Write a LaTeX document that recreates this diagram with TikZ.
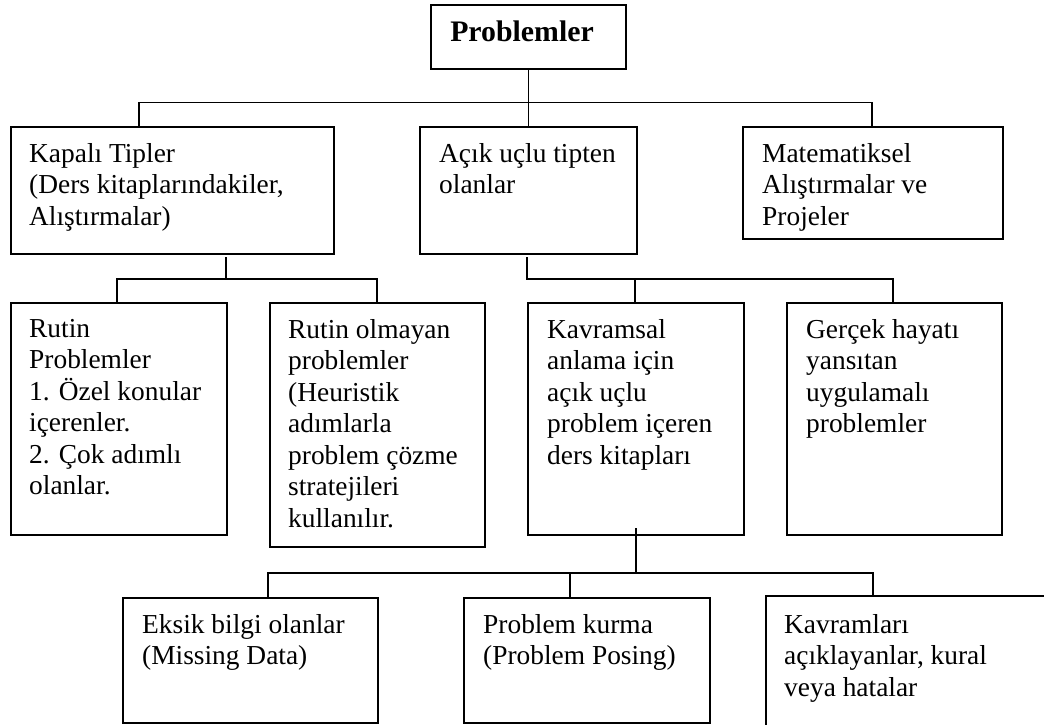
\documentclass[tikz,border=0pt]{standalone}
\usepackage{fontspec}
\setmainfont{Liberation Serif}
\begin{document}
\begin{tikzpicture}[x=1pt,y=-1pt,
  box/.style={draw, line width=1.7pt, inner sep=0pt, anchor=north west},
  txt/.style={inner sep=0pt, anchor=north west, align=left, font=\fontsize{27.4}{31.5}\selectfont},
  conn/.style={line width=1.4pt}]
\useasboundingbox (0,0) rectangle (1044,725);
\clip (0,0) rectangle (1044,725);
% boxes
\node[box, minimum width=195pt, minimum height=64pt] (root) at (430,4) {};
\node[box, minimum width=323pt, minimum height=127pt] (kapali) at (10,126) {};
\node[box, minimum width=217pt, minimum height=127pt] (acik) at (419,126) {};
\node[box, minimum width=260pt, minimum height=112pt] (mat) at (742,126) {};
\node[box, minimum width=216pt, minimum height=232pt] (rutin) at (10,302) {};
\node[box, minimum width=215pt, minimum height=244pt] (rutinol) at (269,302) {};
\node[box, minimum width=216pt, minimum height=232pt] (kavr) at (527,302) {};
\node[box, minimum width=215pt, minimum height=232pt] (gercek) at (786,302) {};
\node[box, minimum width=255pt, minimum height=125pt] (eksik) at (122,597) {};
\node[box, minimum width=246pt, minimum height=125pt] (kurma) at (463,597) {};
\node[box, minimum width=300pt, minimum height=160pt] (kavlari) at (765,595) {};
% texts
\node[inner sep=0pt, anchor=base, font=\fontsize{29.8}{34}\selectfont\bfseries] (roottxt) at (522,42) {Problemler};
\node[txt] (kapalitxt) at ([shift={(19,17)}]kapali.north west) {Kapalı Tipler\\(Ders kitaplarındakiler,\\Alıştırmalar)};
\node[txt] (aciktxt) at ([shift={(20,17)}]acik.north west) {Açık uçlu tipten\\olanlar};
\node[txt] (mattxt) at ([shift={(20,17)}]mat.north west) {Matematiksel\\Alıştırmalar ve\\Projeler};
\node[txt] (rutintxt) at ([shift={(19,17)}]rutin.north west) {Rutin\\Problemler\\1. Özel konular\\içerenler.\\2. Çok adımlı\\olanlar.};
\node[txt] (rutinoltxt) at ([shift={(19,17)}]rutinol.north west) {Rutin olmayan\\problemler\\(Heuristik\\adımlarla\\problem çözme\\stratejileri\\kullanılır.};
\node[txt] (kavrtxt) at ([shift={(20,17)}]kavr.north west) {Kavramsal\\anlama için\\açık uçlu\\problem içeren\\ders kitapları};
\node[txt] (gercektxt) at ([shift={(20,17)}]gercek.north west) {Gerçek hayatı\\yansıtan\\uygulamalı\\problemler};
\node[txt] (eksiktxt) at ([shift={(20,17)}]eksik.north west) {Eksik bilgi olanlar\\(Missing Data)};
\node[txt] (kurmatxt) at ([shift={(20,17)}]kurma.north west) {Problem kurma\\(Problem Posing)};
\node[txt] (kavlaritxt) at ([shift={(19,19)}]kavlari.north west) {Kavramları\\açıklayanlar, kural\\veya hatalar};
% connectors: level 1
\draw[conn] (root.south) -- (acik.north);
\coordinate (barL) at (139,102.5);
\coordinate (barR) at (872,102.5);
\draw[conn] (barL |- kapali.north) -- (barL) -- (barR) -- (barR |- mat.north);
% from Kapali
\coordinate (k1) at (226,257);
\coordinate (k2) at (226,279);
\coordinate (kL) at (117,279);
\coordinate (kR) at (377,279);
\draw[conn] (k1) -- (k2);
\draw[conn] (kL |- rutin.north) -- (kL) -- (kR) -- (kR |- rutinol.north);
% from Acik
\coordinate (a1) at (527,257);
\coordinate (a2) at (527,279);
\coordinate (aM) at (635,279);
\coordinate (aR) at (893,279);
\draw[conn] (a1) -- (a2) -- (aR) -- (aR |- gercek.north);
\draw[conn] (aM) -- (aM |- kavr.north);
% from Kavramsal
\coordinate (v1) at (636,528);
\coordinate (v2) at (636,573);
\coordinate (vL) at (268,573);
\coordinate (vM) at (570,573);
\coordinate (vR) at (873,573);
\draw[conn] (v1) -- (v2);
\draw[conn] (vL |- eksik.north) -- (vL) -- (vR) -- (vR |- kavlari.north);
\draw[conn] (vM) -- (vM |- kurma.north);
\end{tikzpicture}
\end{document}
